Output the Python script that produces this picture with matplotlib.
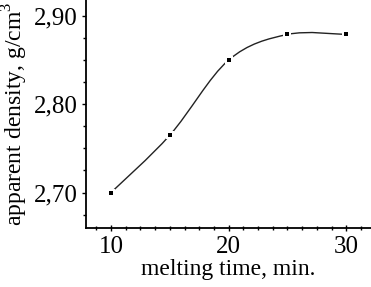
import matplotlib.pyplot as plt
from matplotlib.path import Path
from matplotlib.patches import PathPatch
from matplotlib.ticker import MultipleLocator

plt.rcParams['font.family'] = ['Liberation Serif', 'DejaVu Serif']
plt.rcParams['mathtext.fontset'] = 'custom'
plt.rcParams['mathtext.rm'] = 'Liberation Serif'

melting_time = [10, 15, 20, 25, 30]
density = [2.700, 2.765, 2.850, 2.879, 2.879]
x_ticks = [10, 20, 30]
y_ticks = [2.70, 2.80, 2.90]
y_tick_labels = ['2,70', '2,80', '2,90']

fig = plt.figure(figsize=(3.71, 2.87), dpi=100)
ax = fig.add_axes([0.232, 0.206, 0.768, 0.794])

# smooth curve through the points (Catmull-Rom -> cubic Bezier)
pts = list(zip(melting_time, density))
ext = [pts[0]] + pts + [pts[-1]]
verts = [pts[0]]
codes = [Path.MOVETO]
for i in range(1, len(ext) - 2):
    p0, p1, p2, p3 = ext[i - 1], ext[i], ext[i + 1], ext[i + 2]
    c1 = (p1[0] + (p2[0] - p0[0]) / 6, p1[1] + (p2[1] - p0[1]) / 6)
    c2 = (p2[0] - (p3[0] - p1[0]) / 6, p2[1] - (p3[1] - p1[1]) / 6)
    verts += [c1, c2, p2]
    codes += [Path.CURVE4] * 3
ax.add_patch(PathPatch(Path(verts, codes), facecolor='none',
                       edgecolor='#222222', linewidth=1.0))

# white halo behind the markers leaves a small gap in the line
ax.plot(melting_time, density, linestyle='none', marker='s', markersize=6,
        color='white', markeredgewidth=0)
ax.plot(melting_time, density, linestyle='none', marker='s', markersize=3.2,
        color='black', markeredgewidth=0)

ax.set_xlim(7.88, 32.1)
ax.set_ylim(2.660, 2.918)

ax.spines['top'].set_visible(False)
ax.spines['right'].set_visible(False)
for s in ['left', 'bottom']:
    ax.spines[s].set_linewidth(1.3)

ax.set_xticks(x_ticks)
ax.set_yticks(y_ticks)
ax.set_yticklabels(y_tick_labels)
ax.xaxis.set_minor_locator(MultipleLocator(1.25))
ax.yaxis.set_minor_locator(MultipleLocator(0.025))
ax.tick_params(axis='x', which='major', direction='inout', length=5, width=1,
               labelsize=18, pad=3)
ax.tick_params(axis='x', which='minor', direction='inout', length=3, width=1)
ax.tick_params(axis='y', which='major', direction='out', length=3, width=1,
               labelsize=18, pad=3)
ax.tick_params(axis='y', which='minor', direction='out', length=2, width=1)

ax.set_xlabel('melting time, min.', fontsize=17, labelpad=1)
ax.set_ylabel('apparent density, g/cm$^3$', fontsize=17, labelpad=3)

fig.savefig('out.png', dpi=100)
